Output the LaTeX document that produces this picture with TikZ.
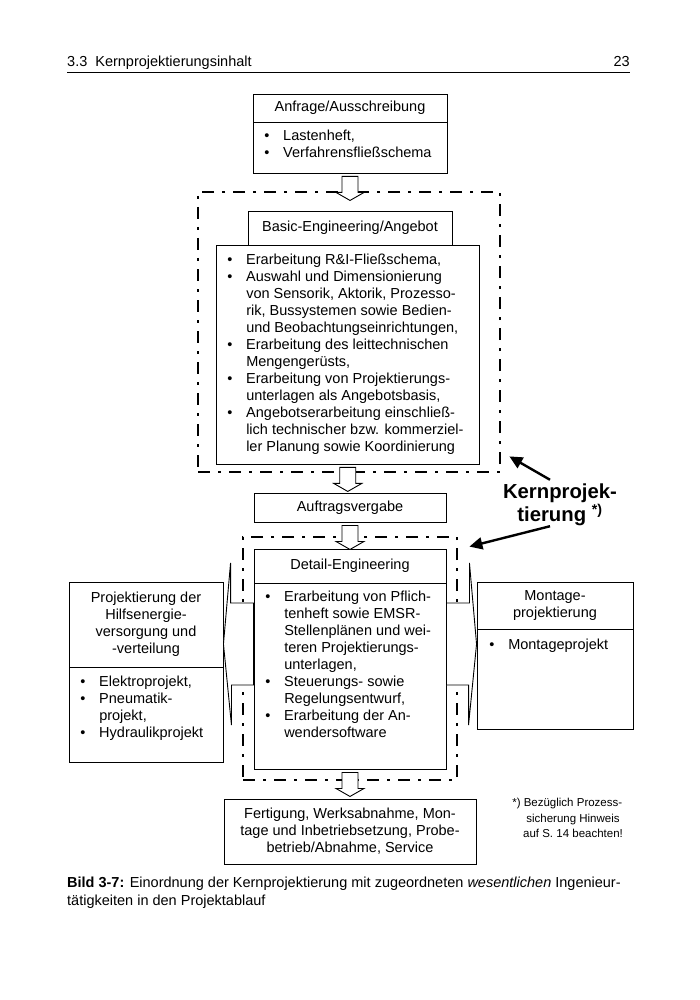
\documentclass[tikz,border=0pt]{standalone}
\usepackage{fontspec}
\setmainfont{Liberation Sans}
\usetikzlibrary{calc,arrows.meta}
\newcommand{\bul}{\makebox[19pt][l]{\textbullet}}
\newcommand{\ind}{\hspace*{19pt}}
\newcommand{\flowarrow}[2]{%
  \coordinate (fa) at ($(#1.south)!3pt!(#2.north)$);
  \draw[blockarrow] (fa) ++(-8,0) -- ++(16,0) -- ++(0,16) -- ++(6,0)
    -- ++(-14,8) -- ++(-14,-8) -- ++(6,0) -- cycle;}
\tikzset{
  box/.style={draw, line width=0.9pt, inner sep=0pt, align=center,
    font=\fontsize{14.5}{17}\selectfont},
  items/.style={anchor=north west, inner sep=0pt, align=left,
    font=\fontsize{14.5}{17}\selectfont},
  kernframe/.style={draw, line width=2.8pt, inner sep=0pt,
    dash pattern=on 12pt off 8pt on 3pt off 8pt},
  kernarrow/.style={line width=2.4pt, -{Triangle[length=13pt,width=12pt]}},
  blockarrow/.style={draw, line width=0.9pt, fill=white},
}
\begin{document}
\begin{tikzpicture}[x=1pt,y=-1pt]
\fill[white] (0,0) rectangle (700,1000);
\useasboundingbox (0,0) rectangle (700,1000);

% page head
\node[anchor=base west, inner sep=0pt, font=\fontsize{14.5}{17}\selectfont] (hdr) at (67,67)
  {3.3\hspace{0.55em}Kernprojektierungsinhalt};
\node[anchor=base east, inner sep=0pt, font=\fontsize{14.5}{17}\selectfont] (pno) at (630,67) {23};
\draw[line width=0.8pt] ($(hdr.base west)+(0,5)$) -- ($(pno.base east)+(0,5)$);

% frames of the Kernprojektierung
\node[kernframe, minimum width=302, minimum height=280] (basicframe) at (349,332) {};
\node[kernframe, minimum width=214, minimum height=243] (detailframe) at (350,658.5) {};

% boxes
\node[box, minimum width=194, minimum height=28] (atitle) at (350,108) {Anfrage/Ausschreibung};
\node[box, minimum width=194, minimum height=51] (abody) at (350,147.5) {};
\node[items] (atext) at ($(abody.north west)+(11.5,7)$)
  {\strut\bul Lastenheft,\\ \bul Verfahrensfließschema};

\node[box, minimum width=204, minimum height=34] (btitle) at (350,228) {Basic-Engineering/Angebot};
\node[box, minimum width=263, minimum height=219] (bbody) at (347.5,354.5) {};
\node[items] (btext) at ($(bbody.north west)+(11.5,8.2)$)
  {\strut\bul Erarbeitung R\&I-Fließschema,\\
   \bul Auswahl und Dimensionierung\\
   \ind von Sensorik, Aktorik, Prozesso-\\
   \ind rik, Bussystemen sowie Bedien-\\
   \ind und Beobachtungseinrichtungen,\\
   \bul Erarbeitung des leittechnischen\\
   \ind Mengengerüsts,\\
   \bul Erarbeitung von Projektierungs-\\
   \ind unterlagen als Angebotsbasis,\\
   \bul Angebotserarbeitung einschließ-\\
   \ind lich technischer bzw. kommerziel-\\
   \ind ler Planung sowie Koordinierung};

\node[box, minimum width=192, minimum height=29] (auftrag) at (350,507.5) {Auftragsvergabe};

\node[box, minimum width=192, minimum height=34] (dtitle) at (350,566) {Detail-Engineering};
\node[box, minimum width=192, minimum height=186] (dbody) at (350,676) {};
\node[items] (dtext) at ($(dbody.north west)+(11.5,7.2)$)
  {\strut\bul Erarbeitung von Pflich-\\
   \ind tenheft sowie EMSR-\\
   \ind Stellenplänen und wei-\\
   \ind teren Projektierungs-\\
   \ind unterlagen,\\
   \bul Steuerungs- sowie\\
   \ind Regelungsentwurf,\\
   \bul Erarbeitung der An-\\
   \ind wendersoftware};

\node[box, minimum width=154, minimum height=85] (ltitle) at (146,624.5)
  {Projektierung der\\Hilfsenergie-\\versorgung und\\-verteilung};
\node[box, minimum width=154, minimum height=95] (lbody) at (146,714.5) {};
\node[items] (ltext) at ($(lbody.north west)+(11.5,8.2)$)
  {\strut\bul Elektroprojekt,\\ \bul Pneumatik-\\ \ind projekt,\\ \bul Hydraulikprojekt};

\node[box, minimum width=156, minimum height=47] (rtitle) at (555,605.5) {Montage-\\projektierung};
\node[box, minimum width=156, minimum height=100] (rbody) at (555,679) {};
\node[items] (rtext) at ($(rbody.north west)+(12.5,9)$) {\strut\bul Montageprojekt};

\node[box, minimum width=252, minimum height=65] (final) at (350,831.5)
  {Fertigung, Werksabnahme, Mon-\\tage und Inbetriebsetzung, Probe-\\betrieb/Abnahme, Service};

% block arrows
\flowarrow{abody}{btitle}
\flowarrow{bbody}{auftrag}
\flowarrow{auftrag}{dtitle}
\flowarrow{dbody}{final}

\coordinate (armtop) at (0,603);
\coordinate (armtip) at (0,644);
\coordinate (armbot) at (0,685);
\draw[blockarrow] (dbody.west |- armtop) -- ++(-23,0) -- ++(0,-40) -- (ltitle.east |- armtip)
  -- ++(8,81) -- ++(0,-40) -- (dbody.west |- armbot) -- cycle;
\draw[blockarrow] (dbody.east |- armtop) -- ++(23,0) -- ++(0,-40) -- (rtitle.west |- armtip)
  -- ++(-8,81) -- ++(0,-40) -- (dbody.east |- armbot) -- cycle;

% label
\node[inner sep=0pt, align=center, font=\fontsize{20.3}{22}\selectfont\bfseries] (kern) at (560,505)
  {Kernprojek-\\tierung \textsuperscript{*)}};
\draw[kernarrow] ($(kern.north)+(-10,-4)$) -- ($(basicframe.south east)+(8,-17)$);
\draw[kernarrow] ($(kern.south)+(-10,0)$) -- ($(detailframe.north east)+(11,11)$);

\node[inner sep=0pt, align=center, font=\fontsize{11.5}{15.5}\selectfont] (note) at (573,818)
  {\llap{*) }Bezüglich Prozess-\\sicherung Hinweis\\auf S. 14 beachten!};

% caption
\node[anchor=base west, inner sep=0pt, align=left, font=\fontsize{14.5}{18}\selectfont] (cap) at (67,905)
  {\textbf{Bild 3-7:} Einordnung der Kernprojektierung mit zugeordneten \textit{wesentlichen} Ingenieur-\\
   tätigkeiten in den Projektablauf};
\end{tikzpicture}
\end{document}
